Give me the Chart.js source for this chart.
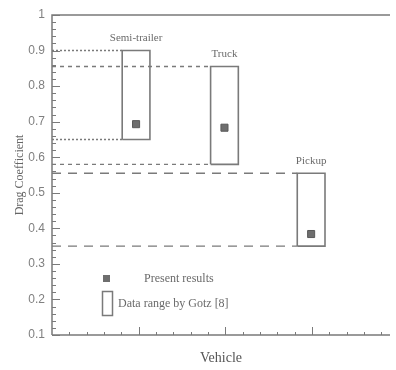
<!DOCTYPE html>
<html>
<head>
<meta charset="utf-8">
<script src="https://cdn.jsdelivr.net/npm/chart.js@4/dist/chart.umd.min.js"></script>
<style>
html,body{margin:0;padding:0;background:#fff}
#wrap{width:396px;height:370px;position:relative}
</style>
</head>
<body>
<div id="wrap"><canvas id="c"></canvas></div>
<script>

/* ===== DATA ===== */

const vehicles = ["Semi-trailer","Truck","Pickup"]
const vehicleX = [0.97,1.99,2.99]
const presentResults = [0.693,0.683,0.384]
const gotzLow = [0.65,0.58,0.35]
const gotzHigh = [0.90,0.855,0.555]
const yTickLabels = ["0.1","0.2","0.3","0.4","0.5","0.6","0.7","0.8","0.9","1"]

/* ===== STYLE ===== */

const ink = "#7a7a7a"
const halfW = 0.16
const dashes = [[2,2],[4,4],[9,7]]

const datasets = []

vehicles.forEach((v,i)=>{

const l = vehicleX[i]-halfW
const r = vehicleX[i]+halfW

;[gotzHigh[i],gotzLow[i]].forEach(y=>{
datasets.push({
type:"scatter",
data:[{x:0,y:y},{x:l,y:y}],
showLine:true,
borderColor:ink,
borderWidth:1.4,
borderDash:dashes[i],
pointRadius:0
})
})

datasets.push({
type:"scatter",
data:[{x:l,y:gotzLow[i]},{x:r,y:gotzLow[i]},{x:r,y:gotzHigh[i]},{x:l,y:gotzHigh[i]},{x:l,y:gotzLow[i]}],
showLine:true,
borderColor:ink,
borderWidth:1.6,
pointRadius:0
})

})

datasets.push({
type:"scatter",
data:vehicleX.map((x,i)=>({x:x,y:presentResults[i]})),
pointStyle:"rect",
pointRadius:5,
pointBackgroundColor:"#6e6e6e",
pointBorderColor:"#5a5a5a",
pointBorderWidth:1
})

/* ===== FRAME, TICKS, LABELS ===== */

const decorPlugin = {

id:"decor",

afterDraw(chart){

const {ctx, chartArea:{left,right,top,bottom}, scales:{x,y}} = chart

ctx.save()
ctx.strokeStyle = ink
ctx.lineWidth = 1.5
ctx.setLineDash([])

ctx.beginPath()
ctx.moveTo(left,bottom)
ctx.lineTo(left,top)
ctx.lineTo(right,top)
ctx.moveTo(left,bottom)
ctx.lineTo(right,bottom)
ctx.stroke()

ctx.lineWidth = 1
ctx.beginPath()
for(let k=5;k<=50;k++){
const py = Math.round(y.getPixelForValue(k/50))+0.5
const len = k%5===0 ? 8 : 4
ctx.moveTo(left,py)
ctx.lineTo(left+len,py)
}
for(let k=1;k<=19;k++){
const px = Math.round(x.getPixelForValue(k/5))+0.5
const len = k%5===0 ? 8 : 3
ctx.moveTo(px,bottom)
ctx.lineTo(px,bottom-len)
}
ctx.stroke()

// vehicle names
ctx.fillStyle = "#6a6a6a"
ctx.font = "11px 'Liberation Serif'"
ctx.textAlign = "center"
ctx.textBaseline = "middle"
vehicles.forEach((v,i)=>{
ctx.fillText(v,x.getPixelForValue(vehicleX[i]),y.getPixelForValue(gotzHigh[i])-12)
})

// legend
ctx.fillStyle = "#6e6e6e"
ctx.fillRect(103,275,7,7)
ctx.lineWidth = 1.5
ctx.strokeRect(102.5,291.5,10,24)
ctx.fillStyle = "#6a6a6a"
ctx.font = "12px 'Liberation Serif'"
ctx.textAlign = "left"
ctx.fillText("Present results",144,279)
ctx.fillText("Data range by Gotz [8]",118,304)

ctx.restore()

}

}

/* ===== CHART ===== */

new Chart(document.getElementById("c"),{

type:"scatter",

data:{datasets:datasets},

options:{

responsive:true,
maintainAspectRatio:false,
animation:false,

layout:{padding:{top:15,right:0,left:0,bottom:0}},

plugins:{
legend:{display:false},
tooltip:{enabled:false}
},

scales:{

x:{
type:"linear",
min:0,
max:3.9,
grid:{display:false,drawTicks:false},
border:{display:false},
ticks:{display:false},
title:{display:true,text:"Vehicle",color:"#555",font:{family:"'Liberation Serif'",size:14},padding:{top:0,bottom:3}},
afterFit(s){s.height=35}
},

y:{
type:"linear",
min:0.1,
max:1,
grid:{display:false,drawTicks:false},
border:{display:false},
ticks:{
stepSize:0.1,
color:"#808080",
font:{family:"'Liberation Sans'",size:12},
padding:7,
callback:(val,idx)=>yTickLabels[idx]
},
title:{display:true,text:"Drag Coefficient",color:"#666",font:{family:"'Liberation Serif'",size:12},padding:{top:13,bottom:0}},
afterFit(s){s.width=52}
}

}

},

plugins:[decorPlugin]

})

</script>
</body>
</html>
